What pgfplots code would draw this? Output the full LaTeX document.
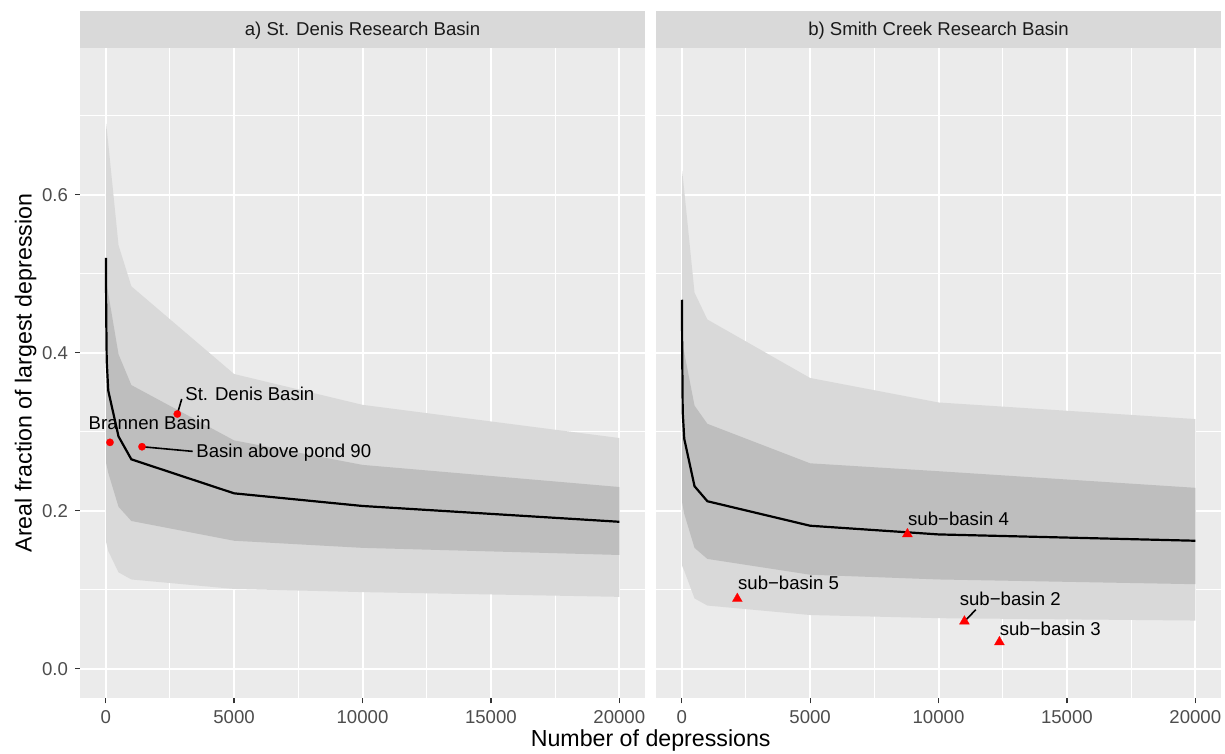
\documentclass[border=0pt]{standalone}
\usepackage{fontspec}
\setmainfont{Liberation Sans}
\usepackage{pgfplots}
\pgfplotsset{compat=1.18}
\definecolor{panelbg}{HTML}{EBEBEB}
\definecolor{stripbg}{HTML}{D9D9D9}
\definecolor{bandout}{HTML}{D9D9D9}
\definecolor{bandin}{HTML}{BEBEBE}
\definecolor{ticklab}{HTML}{4D4D4D}
\definecolor{tickcol}{HTML}{333333}
\definecolor{striptext}{HTML}{1A1A1A}
\definecolor{ptred}{HTML}{FF0000}
\newcommand{\smallfont}{\fontsize{9.3}{11}\selectfont}
\newcommand{\titlefont}{\fontsize{11.6}{13}\selectfont}
\pgfplotsset{
  facet/.style={
    scale only axis, width=282.5pt, height=325.3pt,
    xmin=-1000, xmax=21000, ymin=-0.0374, ymax=0.786,
    axis background/.style={fill=panelbg},
    axis lines*=left,
    axis line style={draw=none},
    xtick={0,5000,10000,15000,20000},
    ytick={0,0.2,0.4,0.6},
    minor xtick={2500,7500,12500,17500},
    minor ytick={0.1,0.3,0.5,0.7},
    grid=both,
    major grid style={white, line width=1pt},
    minor grid style={white, line width=0.5pt},
    tick align=outside,
    major tick length=2.5pt,
    minor tick length=0pt,
    tick style={tickcol, line width=0.6pt},
    scaled x ticks=false, scaled y ticks=false,
    /pgf/number format/assume math mode=true,
    xticklabel style={font=\smallfont, text=ticklab, /pgf/number format/1000 sep={}},
    yticklabel style={font=\smallfont, text=ticklab, /pgf/number format/.cd, fixed, fixed zerofill, precision=1, /tikz/.cd},
    clip=false,
  }
}
\begin{document}
\begin{tikzpicture}
\path[use as bounding box] (0,0) rectangle (612.5pt,377pt);
% ---------------- Panel a ----------------
\begin{axis}[facet, name=A, at={(40pt,27.85pt)}, anchor=south west]
\addplot[draw=none, fill=bandout] coordinates {
 (20,0.69) (100,0.665) (500,0.536) (1000,0.484) (5000,0.373) (10000,0.334) (20000,0.292)
 (20000,0.091) (10000,0.097) (5000,0.101) (1000,0.113) (500,0.122) (100,0.149) (20,0.16)} -- cycle;
\addplot[draw=none, fill=bandin] coordinates {
 (20,0.49) (100,0.475) (500,0.398) (1000,0.359) (5000,0.289) (10000,0.258) (20000,0.230)
 (20000,0.144) (10000,0.153) (5000,0.162) (1000,0.187) (500,0.205) (100,0.248) (20,0.26)} -- cycle;
\addplot[black, line width=1.1pt] coordinates {
 (10,0.52) (20,0.45) (40,0.39) (100,0.352) (500,0.294) (1000,0.265) (5000,0.222) (10000,0.206) (20000,0.186)};
\addplot[black, line width=0.8pt] coordinates {(2790,0.3224) (2961,0.3414)};
\addplot[black, line width=0.8pt] coordinates {(1414,0.281) (3389,0.2751)};
\addplot[only marks, color=ptred, mark=*, mark size=1.85pt, mark options={draw=ptred, fill=ptred, line width=0.1pt}] coordinates {
 (167,0.2865) (2790,0.3224) (1414,0.281)};
\node[anchor=base west, inner sep=0pt, font=\smallfont] at (axis cs:3089,0.3396) {St. Denis Basin};
\node[anchor=base west, inner sep=0pt, font=\smallfont] at (axis cs:-678,0.3034) {Brannen Basin};
\node[anchor=base west, inner sep=0pt, font=\smallfont] at (axis cs:3518,0.2671) {Basin above pond 90};
\end{axis}
% ---------------- Panel b ----------------
\begin{axis}[facet, name=B, at={(328pt,27.85pt)}, anchor=south west, yticklabels={}, ytick style={draw=none}]
\addplot[draw=none, fill=bandout] coordinates {
 (20,0.63) (100,0.605) (500,0.476) (1000,0.442) (5000,0.368) (10000,0.337) (20000,0.316)
 (20000,0.061) (10000,0.064) (5000,0.068) (1000,0.080) (500,0.089) (100,0.124) (20,0.13)} -- cycle;
\addplot[draw=none, fill=bandin] coordinates {
 (20,0.41) (100,0.40) (500,0.333) (1000,0.310) (5000,0.260) (10000,0.250) (20000,0.229)
 (20000,0.107) (10000,0.113) (5000,0.119) (1000,0.139) (500,0.153) (100,0.196) (20,0.21)} -- cycle;
\addplot[black, line width=1.1pt] coordinates {
 (10,0.467) (20,0.40) (40,0.325) (100,0.291) (500,0.231) (1000,0.212) (5000,0.181) (10000,0.170) (20000,0.162)};
\addplot[black, line width=0.8pt] coordinates {(11009,0.060) (11453,0.0747)};
\addplot[only marks, color=ptred, mark=triangle*, mark size=2.9pt, mark options={draw=ptred, fill=ptred, line width=0.1pt}] coordinates {
 (2166,0.0886) (8789,0.1705) (11009,0.060) (12372,0.0338)};
\node[anchor=base west, inner sep=0pt, font=\smallfont] at (axis cs:2182,0.100) {sub−basin 5};
\node[anchor=base west, inner sep=0pt, font=\smallfont] at (axis cs:8804,0.181) {sub−basin 4};
\node[anchor=base west, inner sep=0pt, font=\smallfont] at (axis cs:10814,0.0801) {sub−basin 2};
\node[anchor=base west, inner sep=0pt, font=\smallfont] at (axis cs:12372,0.0422) {sub−basin 3};
\end{axis}
% ---------------- Strips ----------------
\fill[stripbg] (40pt,353.15pt) rectangle (322.5pt,371.5pt);
\fill[stripbg] (328pt,353.15pt) rectangle (610.5pt,371.5pt);
\node[anchor=base, inner sep=0pt, font=\smallfont, text=striptext] at (181.25pt,359pt) {a) St. Denis Research Basin};
\node[anchor=base, inner sep=0pt, font=\smallfont, text=striptext] at (469.25pt,359pt) {b) Smith Creek Research Basin};
% ---------------- Axis titles ----------------
\node[anchor=base, inner sep=0pt, font=\titlefont] at (325.35pt,3.65pt) {Number of depressions};
\node[anchor=base, inner sep=0pt, font=\titlefont, rotate=90] at (15.85pt,190.5pt) {Areal fraction of largest depression};
\end{tikzpicture}
\end{document}
